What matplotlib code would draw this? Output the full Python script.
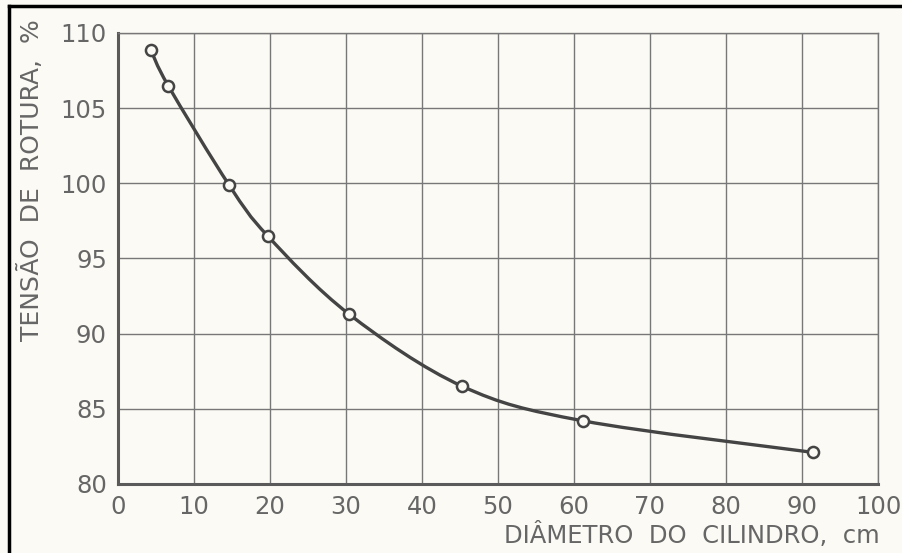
import matplotlib.pyplot as plt
from matplotlib.path import Path
from matplotlib.patches import PathPatch
from matplotlib.lines import Line2D

# Dados
diametro = [4.3, 6.6, 14.6, 19.7, 30.4, 45.3, 61.2, 91.5]
tensao = [108.9, 106.5, 99.9, 96.5, 91.3, 86.5, 84.2, 82.1]
xticks = [0, 10, 20, 30, 40, 50, 60, 70, 80, 90, 100]
yticks = [80, 85, 90, 95, 100, 105, 110]

fundo = '#fbfaf4'
cinza = '#5a5a5a'
linha = '#444444'

fig = plt.figure(figsize=(9.02, 5.53), dpi=100, facecolor=fundo)
ax = fig.add_axes([118 / 902, 69 / 553, 760 / 902, 451 / 553], facecolor=fundo)

ax.set_xlim(0, 100)
ax.set_ylim(80, 110)
ax.set_xticks(xticks)
ax.set_yticks(yticks)
ax.grid(True, color='#777777', linewidth=1.0)
ax.set_axisbelow(True)
ax.tick_params(length=0, labelsize=17.5, labelcolor='#666666')
ax.tick_params(axis='x', pad=8)
ax.tick_params(axis='y', pad=8)

for lado in ['top', 'right']:
    ax.spines[lado].set_color('#777777')
    ax.spines[lado].set_linewidth(1.0)
for lado in ['left', 'bottom']:
    ax.spines[lado].set_color(cinza)
    ax.spines[lado].set_linewidth(2.2)

# Curva suave (Catmull-Rom -> Bezier) passando pelos pontos
pts = list(zip(diametro, tensao))
verts = [pts[0]]
codes = [Path.MOVETO]
for i in range(len(pts) - 1):
    p0 = pts[i - 1] if i > 0 else pts[i]
    p1 = pts[i]
    p2 = pts[i + 1]
    p3 = pts[i + 2] if i + 2 < len(pts) else pts[i + 1]
    c1 = (p1[0] + (p2[0] - p0[0]) / 6, p1[1] + (p2[1] - p0[1]) / 6)
    c2 = (p2[0] - (p3[0] - p1[0]) / 6, p2[1] - (p3[1] - p1[1]) / 6)
    verts += [c1, c2, p2]
    codes += [Path.CURVE4] * 3
ax.add_patch(PathPatch(Path(verts, codes), facecolor='none', edgecolor=linha,
                       linewidth=2.4, zorder=3))

ax.plot(diametro, tensao, linestyle='none', marker='o', markersize=8,
        markerfacecolor=fundo, markeredgecolor=linha, markeredgewidth=1.8, zorder=4)

fig.text(31 / 902, 1 - 180 / 553, 'TENSÃO  DE  ROTURA,  %', rotation=90,
         ha='center', va='center', fontsize=18, color='#666666')
fig.text(880 / 902, 1 - 535 / 553, 'DIÂMETRO  DO  CILINDRO,  cm',
         ha='right', va='center', fontsize=17.5, color='#666666')

# Moldura da imagem (topo e esquerda)
fig.add_artist(Line2D([9 / 902, 1], [1 - 6 / 553, 1 - 6 / 553], color='black', linewidth=2.5))
fig.add_artist(Line2D([9 / 902, 9 / 902], [0, 1 - 6 / 553], color='black', linewidth=2.5))

fig.savefig('out.png', dpi=100, facecolor=fundo)
